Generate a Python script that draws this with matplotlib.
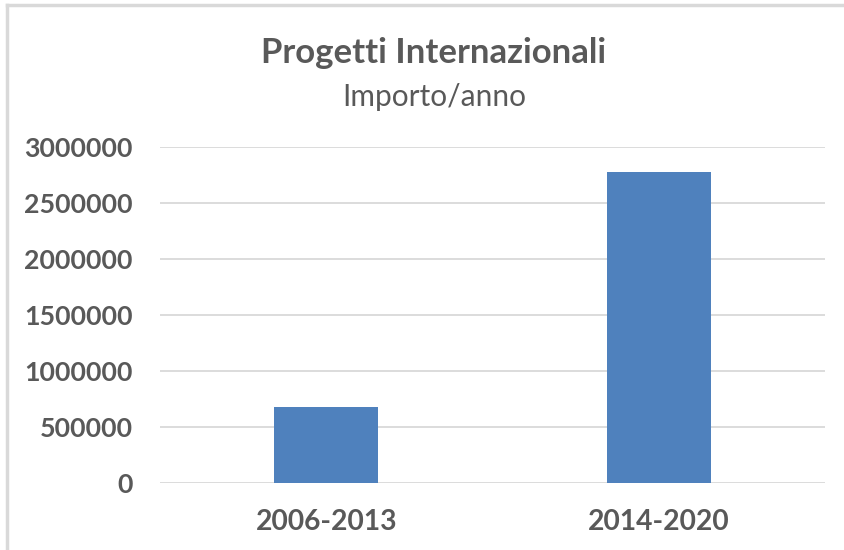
import matplotlib.pyplot as plt
from matplotlib.lines import Line2D

categories = ['2006-2013', '2014-2020']
importo = [680000, 2780000]
yticks = [0, 500000, 1000000, 1500000, 2000000, 2500000, 3000000]

plt.rcParams['font.family'] = ['Lato', 'DejaVu Sans']
txt = '#595959'

fig = plt.figure(figsize=(8.44, 5.5), dpi=100)
ax = fig.add_axes([160/844, 1 - 483/550, 665/844, 336/550])

ax.bar(range(len(categories)), importo, width=0.313, color='#4f81bd', zorder=3)
ax.set_xlim(-0.5, len(categories) - 0.5)
ax.set_ylim(0, 3000000)
ax.set_yticks(yticks)
ax.set_yticklabels([str(v) for v in yticks])
ax.set_xticks(range(len(categories)))
ax.set_xticklabels(categories)

ax.grid(axis='y', color='#d9d9d9', linewidth=1.3, zorder=0)
for s in ax.spines.values():
    s.set_visible(False)
ax.tick_params(length=0)
ax.tick_params(axis='y', pad=19.5, labelsize=19.3, labelcolor=txt)
ax.tick_params(axis='x', pad=19, labelsize=20.3, labelcolor=txt)
for lab in ax.get_xticklabels() + ax.get_yticklabels():
    lab.set_fontweight('bold')

fig.text(434/844, 1 - 53/550, 'Progetti Internazionali', ha='center', va='center',
         fontsize=25, fontweight='bold', color=txt)
fig.text(434/844, 1 - 97/550, 'Importo/anno', ha='center', va='center',
         fontsize=21.5, color=txt)

# chart frame
fig.add_artist(Line2D([7/844, 1], [1 - 5/550, 1 - 5/550], color='#d9d9d9', lw=2.5))
fig.add_artist(Line2D([7/844, 7/844], [0, 1 - 5/550], color='#d9d9d9', lw=2.5))

fig.savefig('out.png', dpi=100)
